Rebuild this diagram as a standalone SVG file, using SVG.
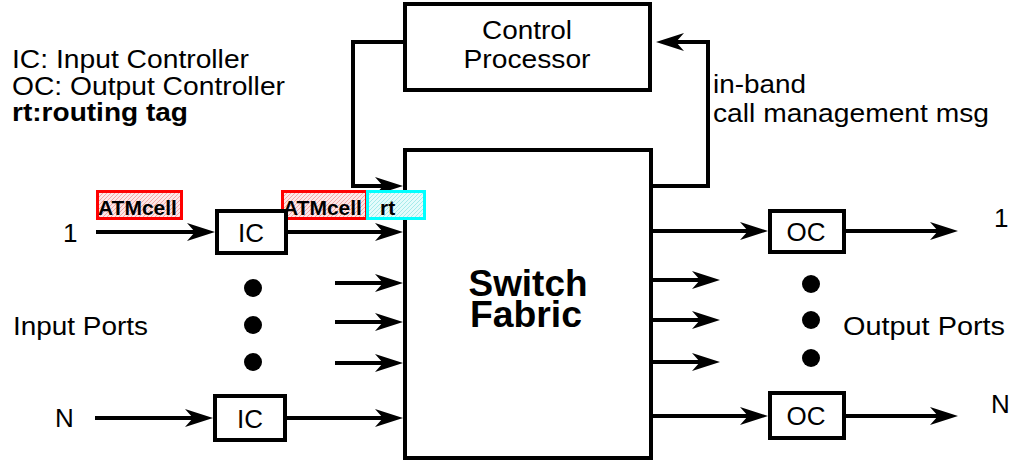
<svg xmlns="http://www.w3.org/2000/svg" width="1012" height="462" viewBox="0 0 1012 462">
<style>
  .box { fill: #ffffff; stroke: #000000; stroke-width: 4; }
  .ln { fill: none; stroke: #000000; stroke-width: 4; marker-end: url(#arr); }
  .t { font-family: "Liberation Sans", Arial, sans-serif; font-size: 26px; fill: #000000; }
  .c { text-anchor: middle; }
  .b { font-weight: bold; }
  .big { font-size: 36px; font-weight: bold; }
  .cell { font-family: "Liberation Sans", Arial, sans-serif; font-size: 21px; font-weight: bold; fill: #000000; }
  .dot { fill: #000000; }
  .red { fill: url(#hatchRed); stroke: #ff0000; stroke-width: 3; }
  .cyan { fill: url(#hatchCyan); stroke: #00ffff; stroke-width: 3; }
</style>
<defs>
  <marker id="arr" markerUnits="userSpaceOnUse" viewBox="-22 -10 32 20" markerWidth="32" markerHeight="20" refX="0" refY="0" orient="auto">
    <path d="M8,0 L-20,-9 L-12,0 L-20,9 Z" fill="#000000"/>
  </marker>
  <pattern id="hatchRed" patternUnits="userSpaceOnUse" width="4" height="4">
    <rect width="4" height="4" fill="#fde6e6"/>
    <path d="M0,4 L4,0 M-1,1 L1,-1 M3,5 L5,3" stroke="#f2a6a6" stroke-width="1"/>
  </pattern>
  <pattern id="hatchCyan" patternUnits="userSpaceOnUse" width="4" height="4">
    <rect width="4" height="4" fill="#e4fbfb"/>
    <path d="M0,4 L4,0 M-1,1 L1,-1 M3,5 L5,3" stroke="#a6eaea" stroke-width="1"/>
  </pattern>
</defs>

<g id="legend">
  <text class="t" x="12" y="68" textLength="237" lengthAdjust="spacingAndGlyphs">IC: Input Controller</text>
  <text class="t" x="12" y="95" textLength="273" lengthAdjust="spacingAndGlyphs">OC: Output Controller</text>
  <text class="t b" x="12" y="121" textLength="176" lengthAdjust="spacingAndGlyphs">rt:routing tag</text>
</g>

<g id="connectors">
  <line class="ln" x1="96" y1="232" x2="207" y2="232"/>
  <line class="ln" x1="288" y1="232" x2="395" y2="232"/>
  <line class="ln" x1="335" y1="283" x2="395" y2="283"/>
  <line class="ln" x1="335" y1="322" x2="395" y2="322"/>
  <line class="ln" x1="335" y1="363" x2="395" y2="363"/>
  <line class="ln" x1="95" y1="418" x2="205" y2="418"/>
  <line class="ln" x1="287" y1="418" x2="395" y2="418"/>
  <polyline class="ln" points="405,42 353,42 353,186 395,186"/>
  <polyline class="ln" points="651,186 708,186 708,42 664,42"/>
  <line class="ln" x1="651" y1="231" x2="760" y2="231"/>
  <line class="ln" x1="845" y1="231" x2="950" y2="231"/>
  <line class="ln" x1="651" y1="280" x2="712" y2="280"/>
  <line class="ln" x1="651" y1="320" x2="712" y2="320"/>
  <line class="ln" x1="651" y1="362" x2="712" y2="362"/>
  <line class="ln" x1="651" y1="416" x2="760" y2="416"/>
  <line class="ln" x1="845" y1="416" x2="950" y2="416"/>
</g>

<g id="control-processor">
  <rect class="box" x="405" y="4" width="245" height="86"/>
  <text class="t c" x="527" y="39" textLength="90" lengthAdjust="spacingAndGlyphs">Control</text>
  <text class="t c" x="527" y="68" textLength="127" lengthAdjust="spacingAndGlyphs">Processor</text>
</g>

<g id="call-msg-label">
  <text class="t" x="713" y="93" textLength="93" lengthAdjust="spacingAndGlyphs">in-band</text>
  <text class="t" x="713" y="122" textLength="276" lengthAdjust="spacingAndGlyphs">call management msg</text>
</g>

<g id="switch-fabric">
  <rect class="box" x="405" y="150" width="246" height="308"/>
  <text class="t c big" x="528" y="296" textLength="119" lengthAdjust="spacingAndGlyphs">Switch</text>
  <text class="t c big" x="526" y="327" textLength="112" lengthAdjust="spacingAndGlyphs">Fabric</text>
</g>

<g id="cell-in">
  <rect class="red" x="97.5" y="191.5" width="84" height="27"/>
  <text class="cell" x="98" y="215">ATMcell</text>
</g>

<g id="cell-tagged">
  <rect class="red" x="282.5" y="191.5" width="84" height="27"/>
  <rect class="cyan" x="367.5" y="191.5" width="57" height="27"/>
  <text class="cell" x="283" y="215">ATMcell</text>
  <text class="cell" x="380" y="215">rt</text>
</g>

<g id="ic-1">
  <rect class="box" x="217" y="211" width="69" height="42"/>
  <text class="t c" x="251" y="242">IC</text>
</g>
<g id="ic-n">
  <rect class="box" x="215" y="396" width="70" height="44"/>
  <text class="t c" x="250" y="428">IC</text>
</g>
<g id="oc-1">
  <rect class="box" x="770" y="211" width="74" height="41"/>
  <text class="t c" x="806" y="241">OC</text>
</g>
<g id="oc-n">
  <rect class="box" x="770" y="393" width="74" height="45"/>
  <text class="t c" x="806" y="425">OC</text>
</g>

<g id="input-labels">
  <text class="t" x="63" y="242">1</text>
  <text class="t" x="55" y="427">N</text>
  <text class="t" x="13" y="335" textLength="135" lengthAdjust="spacingAndGlyphs">Input Ports</text>
  <circle class="dot" cx="253" cy="288" r="9"/>
  <circle class="dot" cx="253" cy="325" r="9"/>
  <circle class="dot" cx="253" cy="362" r="9"/>
</g>

<g id="output-labels">
  <text class="t" x="994" y="227">1</text>
  <text class="t" x="991" y="413">N</text>
  <text class="t" x="843" y="335" textLength="162" lengthAdjust="spacingAndGlyphs">Output Ports</text>
  <circle class="dot" cx="811" cy="284" r="9"/>
  <circle class="dot" cx="811" cy="320" r="9"/>
  <circle class="dot" cx="811" cy="358" r="9"/>
</g>
</svg>
